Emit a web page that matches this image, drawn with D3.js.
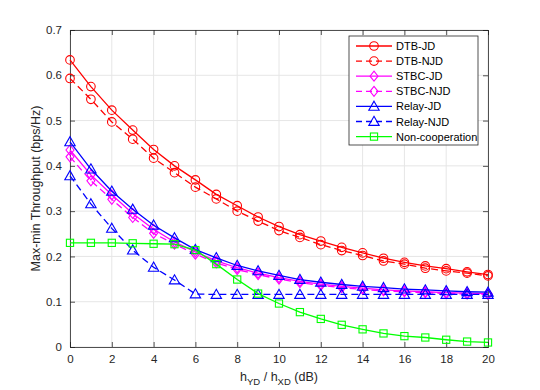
<!DOCTYPE html>
<html><head><meta charset="utf-8">
<script src="https://cdn.jsdelivr.net/npm/d3@7"></script>
<style>body{margin:0;background:#fff;} text{font-family:"Liberation Sans",Arial,sans-serif;}</style>
</head><body><svg id="c" width="540" height="390"></svg>
<script>
const xValues = d3.range(0, 21);
const dtbJD   = [0.634,0.575,0.523,0.479,0.436,0.400,0.369,0.337,0.312,0.287,0.266,0.248,0.234,0.220,0.208,0.196,0.187,0.179,0.173,0.166,0.160];
const dtbNJD  = [0.593,0.547,0.497,0.459,0.417,0.385,0.353,0.327,0.300,0.278,0.257,0.242,0.226,0.213,0.202,0.190,0.183,0.174,0.168,0.163,0.157];
const stbcJD  = [0.435,0.380,0.336,0.295,0.260,0.232,0.210,0.190,0.175,0.163,0.153,0.145,0.139,0.134,0.130,0.126,0.124,0.122,0.120,0.119,0.118];
const stbcNJD = [0.420,0.367,0.326,0.286,0.251,0.227,0.205,0.186,0.171,0.160,0.150,0.142,0.136,0.131,0.127,0.124,0.122,0.120,0.118,0.117,0.116];
const relayJD = [0.453,0.393,0.344,0.304,0.269,0.241,0.215,0.197,0.180,0.168,0.158,0.149,0.143,0.138,0.134,0.131,0.128,0.126,0.124,0.122,0.121];
const relayNJD= [0.378,0.316,0.262,0.214,0.176,0.148,0.117,0.116,0.116,0.116,0.116,0.116,0.116,0.116,0.116,0.116,0.116,0.116,0.116,0.116,0.116];
const nonCoop = [0.230,0.230,0.230,0.229,0.228,0.227,0.214,0.183,0.149,0.118,0.096,0.077,0.062,0.049,0.039,0.030,0.024,0.021,0.016,0.012,0.010];
const xTicks = [0,2,4,6,8,10,12,14,16,18,20];
const yTicks = [0,0.1,0.2,0.3,0.4,0.5,0.6,0.7];
const seriesNames = ["DTB-JD","DTB-NJD","STBC-JD","STBC-NJD","Relay-JD","Relay-NJD","Non-cooperation"];

const series = [
  {name:seriesNames[0], v:dtbJD,   color:"#ff0000", dash:null,  marker:"circle"},
  {name:seriesNames[1], v:dtbNJD,  color:"#ff0000", dash:"7,4", marker:"circle"},
  {name:seriesNames[2], v:stbcJD,  color:"#ff00ff", dash:null,  marker:"diamond"},
  {name:seriesNames[3], v:stbcNJD, color:"#ff00ff", dash:"7,4", marker:"diamond"},
  {name:seriesNames[4], v:relayJD, color:"#0000ff", dash:null,  marker:"triangle"},
  {name:seriesNames[5], v:relayNJD,color:"#0000ff", dash:"7,4", marker:"triangle"},
  {name:seriesNames[6], v:nonCoop, color:"#00ff00", dash:null,  marker:"square"}
];

const L=70, R=488, T=30, B=347;
const svg = d3.select("#c");
const x = d3.scaleLinear().domain([0,20]).range([L,R]);
const y = d3.scaleLinear().domain([0,0.7]).range([B,T]);
const axisColor = "#262626";

// grid
const g = svg.append("g");
g.selectAll(".gx").data(xTicks).enter().append("line")
  .attr("x1",d=>x(d)).attr("x2",d=>x(d)).attr("y1",T).attr("y2",B)
  .attr("stroke","#e6e6e6").attr("stroke-width",1);
g.selectAll(".gy").data(yTicks).enter().append("line")
  .attr("y1",d=>y(d)).attr("y2",d=>y(d)).attr("x1",L).attr("x2",R)
  .attr("stroke","#e6e6e6").attr("stroke-width",1);

// axes
const fmtY = d => d===0 ? "0" : d3.format(".1f")(d);
const axB = svg.append("g").attr("transform",`translate(0,${B})`)
  .call(d3.axisBottom(x).tickValues(xTicks).tickSize(-5).tickPadding(8).tickFormat(d3.format("d")));
const axT = svg.append("g").attr("transform",`translate(0,${T})`)
  .call(d3.axisTop(x).tickValues(xTicks).tickSize(-5).tickFormat(""));
const axL = svg.append("g").attr("transform",`translate(${L},0)`)
  .call(d3.axisLeft(y).tickValues(yTicks).tickSize(-5).tickPadding(8).tickFormat(fmtY));
const axR = svg.append("g").attr("transform",`translate(${R},0)`)
  .call(d3.axisRight(y).tickValues(yTicks).tickSize(-5).tickFormat(""));
[axB,axT,axL,axR].forEach(a=>{
  a.select(".domain").attr("stroke",axisColor).attr("stroke-width",0.8);
  a.selectAll(".tick line").attr("stroke",axisColor).attr("stroke-width",0.8);
  a.selectAll(".tick text").attr("fill",axisColor).attr("font-size",11.5)
   .style("font-family","'Liberation Sans',Arial,sans-serif");
});

// marker generator
function drawMarker(sel, type, cx, cy, color){
  if(type==="circle"){
    sel.append("circle").attr("cx",cx).attr("cy",cy).attr("r",4.3)
      .attr("fill","none").attr("stroke",color).attr("stroke-width",1.1);
  } else if(type==="diamond"){
    const s=5;
    sel.append("path").attr("d",`M${cx},${cy-s}L${cx+s*0.8},${cy}L${cx},${cy+s}L${cx-s*0.8},${cy}Z`)
      .attr("fill","none").attr("stroke",color).attr("stroke-width",1.1);
  } else if(type==="triangle"){
    const s=5.2;
    sel.append("path").attr("d",`M${cx},${cy-s}L${cx+s},${cy+s*0.75}L${cx-s},${cy+s*0.75}Z`)
      .attr("fill","none").attr("stroke",color).attr("stroke-width",1.1);
  } else {
    const s=3.6;
    sel.append("rect").attr("x",cx-s).attr("y",cy-s).attr("width",2*s).attr("height",2*s)
      .attr("fill","none").attr("stroke",color).attr("stroke-width",1.1);
  }
}

const line = d3.line().x((d,i)=>x(xValues[i])).y(d=>y(d));
const plot = svg.append("g");
series.forEach(s=>{
  plot.append("path").datum(s.v).attr("d",line).attr("fill","none")
    .attr("stroke",s.color).attr("stroke-width",1.3)
    .attr("stroke-dasharray",s.dash);
  const mg = plot.append("g");
  s.v.forEach((v,i)=>drawMarker(mg, s.marker, x(xValues[i]), y(v), s.color));
});

// legend
const lg = svg.append("g");
lg.append("rect").attr("x",349).attr("y",36).attr("width",129).attr("height",109)
  .attr("fill","#fff").attr("stroke",axisColor).attr("stroke-width",0.8);
series.forEach((s,i)=>{
  const yy = 46 + i*15.1;
  lg.append("line").attr("x1",356).attr("x2",392).attr("y1",yy).attr("y2",yy)
    .attr("stroke",s.color).attr("stroke-width",1.3).attr("stroke-dasharray",s.dash?"6,4":null);
  drawMarker(lg, s.marker, 374, yy, s.color);
  lg.append("text").attr("x",396).attr("y",yy+4).attr("font-size",11)
    .attr("fill","#000").text(s.name);
});

// axis labels
svg.append("text").attr("transform",`translate(40,${(T+B)/2}) rotate(-90)`)
  .attr("text-anchor","middle").attr("font-size",12.5).attr("fill",axisColor)
  .text("Max-min Throughput (bps/Hz)");
const xl = svg.append("text").attr("x",(L+R)/2).attr("y",381).attr("text-anchor","middle")
  .attr("font-size",12.5).attr("fill",axisColor);
xl.append("tspan").text("h");
xl.append("tspan").attr("dy",4).attr("font-size",9.5).text("YD");
xl.append("tspan").attr("dy",-4).text(" / h");
xl.append("tspan").attr("dy",4).attr("font-size",9.5).text("XD");
xl.append("tspan").attr("dy",-4).text(" (dB)");
</script></body></html>
